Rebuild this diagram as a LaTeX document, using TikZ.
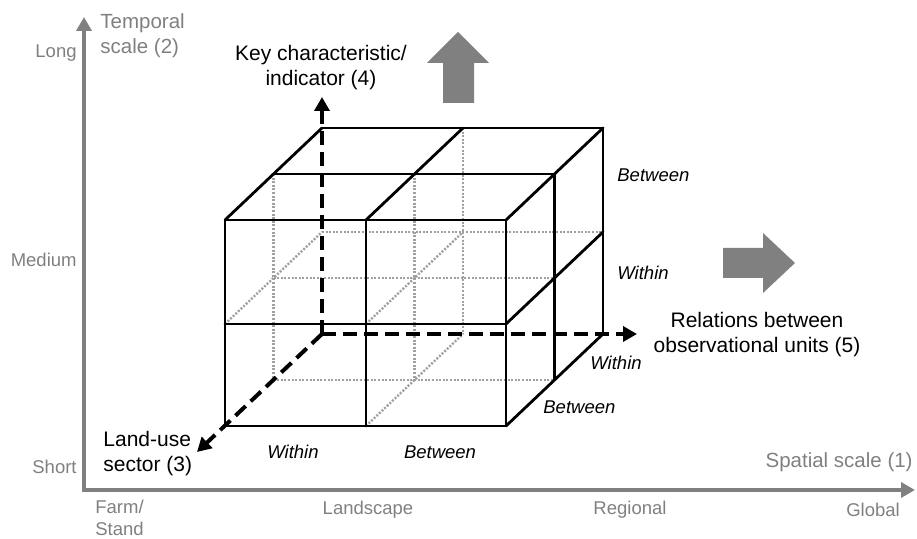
\documentclass[tikz,border=0pt]{standalone}
\usepackage{fontspec}
\setmainfont{Liberation Sans}
\usetikzlibrary{arrows.meta}
\definecolor{axisgray}{RGB}{128,128,128}
\definecolor{hiddengray}{RGB}{160,160,160}
\definecolor{blockgray}{RGB}{128,128,128}
\tikzset{
  cubeline/.style={line width=1.4pt, black, line cap=round},
  hiddenline/.style={line width=1.2pt, hiddengray, dash pattern=on 1pt off 0.8pt},
  dimaxis/.style={line width=2pt, black, dash pattern=on 7pt off 3.5pt, -{Triangle[length=7pt,width=7.5pt]}},
  scaleaxis/.style={line width=2pt, axisgray, line join=miter, {Triangle[length=7pt,width=7.5pt]}-{Triangle[length=7pt,width=7.5pt]}},
  titlelabel/.style={inner sep=0pt, text=black, font=\fontsize{10.5pt}{12.5pt}\selectfont},
  axislabel/.style={inner sep=0pt, text=axisgray, font=\fontsize{10.25pt}{12.5pt}\selectfont},
  ticklabel/.style={inner sep=0pt, text=axisgray, font=\fontsize{9.25pt}{11pt}\selectfont},
  partlabel/.style={inner sep=0pt, text=black, font=\fontsize{9.25pt}{11.5pt}\selectfont\itshape}
}
\begin{document}
\begin{tikzpicture}[x=0.5pt,y=0.5pt,yscale=-1,xscale=1]
\useasboundingbox (0,0) rectangle (917,539);

%Coordinates: front face
\coordinate (ftl) at (225,220); \coordinate (ftc) at (366,220); \coordinate (ftr) at (506,220);
\coordinate (fml) at (225,324); \coordinate (fmc) at (366,324); \coordinate (fmr) at (506,324);
\coordinate (fbl) at (225,426); \coordinate (fbc) at (366,426); \coordinate (fbr) at (506,426);
%Coordinates: middle layer
\coordinate (mtl) at (273.5,174); \coordinate (mtc) at (414.5,174); \coordinate (mtr) at (554.5,174);
\coordinate (mml) at (273.5,278); \coordinate (mmc) at (414.5,278); \coordinate (mmr) at (554.5,278);
\coordinate (mbl) at (273.5,380); \coordinate (mbc) at (414.5,380); \coordinate (mbr) at (554.5,380);
%Coordinates: back face
\coordinate (btl) at (322,128); \coordinate (btc) at (463,128); \coordinate (btr) at (603,128);
\coordinate (bml) at (322,232); \coordinate (bmc) at (463,232); \coordinate (bmr) at (603,232);
\coordinate (bbl) at (322,334); \coordinate (bbc) at (463,334); \coordinate (bbr) at (603,334);
%Coordinates: arrow tips
\coordinate (keytip) at (322,97);
\coordinate (reltip) at (637,334);
\coordinate (landtip) at (197,452);
\coordinate (axisorigin) at (84,490);
\coordinate (timetip) at (84,17);
\coordinate (spacetip) at (915,490);

%Scale axes
\draw [scaleaxis] (timetip) -- (axisorigin) -- (spacetip) ;

%Hidden lines
\draw [hiddenline] (mtl) -- (mbl) ;
\draw [hiddenline] (mtc) -- (mbc) ;
\draw [hiddenline] (btc) -- (bbc) ;
\draw [hiddenline] (bml) -- (bmr) ;
\draw [hiddenline] (mml) -- (mmr) ;
\draw [hiddenline] (mbl) -- (mbr) ;
\draw [hiddenline] (fml) -- (bml) ;
\draw [hiddenline] (fmc) -- (bmc) ;
\draw [hiddenline] (fbc) -- (bbc) ;

%Cube: front face
\draw [cubeline] (ftl) -- (ftr) -- (fbr) -- (fbl) -- cycle ;
\draw [cubeline] (ftc) -- (fbc) ;
\draw [cubeline] (fml) -- (fmr) ;
%Cube: top face
\draw [cubeline] (btl) -- (btr) ;
\draw [cubeline] (mtl) -- (mtr) ;
\draw [cubeline] (ftl) -- (btl) ;
\draw [cubeline] (ftc) -- (btc) ;
\draw [cubeline] (ftr) -- (btr) ;
%Cube: right face
\draw [cubeline] (btr) -- (bbr) ;
\draw [cubeline] (mtr) -- (mbr) ;
\draw [cubeline] (fmr) -- (bmr) ;
\draw [cubeline] (fbr) -- (bbr) ;

%Dimension axes
\draw [dimaxis] (bbl) -- (keytip) ;
\draw [dimaxis] (bbl) -- (reltip) ;
\draw [dimaxis] (bbl) -- (landtip) ;

%Block arrows
\fill [blockgray] (443,103) -- (443,63) -- (427,63) -- (458,32) -- (489,63) -- (474,63) -- (474,103) -- cycle ;
\fill [blockgray] (723,248) -- (763,248) -- (763,233) -- (795,263) -- (763,293) -- (763,278) -- (723,278) -- cycle ;

% Text Node
\node (temporal) [axislabel, anchor=west, align=left] at (100,35.5) {Temporal\\scale (2)};
% Text Node
\node (longlbl) [ticklabel, anchor=east] at (77,53) {Long};
% Text Node
\node (mediumlbl) [ticklabel, anchor=east] at (77,260) {Medium};
% Text Node
\node (shortlbl) [ticklabel, anchor=east] at (77,467) {Short};
% Text Node
\node (farmlbl) [ticklabel, anchor=west, align=left] at (95,518) {Farm/\\Stand};
% Text Node
\node (landscapelbl) [ticklabel] at (368,510) {Landscape};
% Text Node
\node (regionallbl) [ticklabel] at (630,510) {Regional};
% Text Node
\node (globallbl) [ticklabel] at (873,510) {Global};
% Text Node
\node (spatial) [axislabel, anchor=east] at (913,462) {Spatial scale (1)};
% Text Node
\node (keychar) [titlelabel, align=center] at (321,68) {Key characteristic/\\indicator (4)};
% Text Node
\node (relations) [titlelabel, align=center] at (757,335) {Relations between\\observational units (5)};
% Text Node
\node (landuse) [titlelabel, anchor=west, align=left] at (103,453.5) {Land-use\\sector (3)};
% Text Node
\node (tbetween) [partlabel, anchor=west] at (617,175) {Between};
% Text Node
\node (twithin) [partlabel, anchor=west] at (617,273) {Within};
% Text Node
\node (swithin) [partlabel, anchor=west] at (590,363) {Within};
% Text Node
\node (sbetween) [partlabel, anchor=west] at (543,407) {Between};
% Text Node
\node (lwithin) [partlabel] at (293,452) {Within};
% Text Node
\node (lbetween) [partlabel] at (440,452) {Between};

\end{tikzpicture}
\end{document}
